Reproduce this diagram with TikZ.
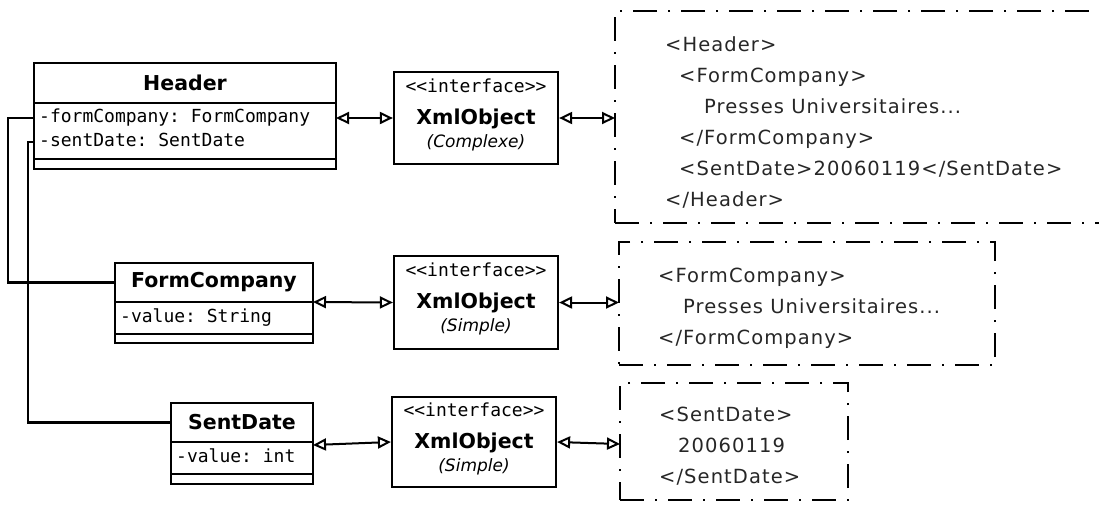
\documentclass[tikz,border=0pt]{standalone}
\usepackage{fontspec}
\setmainfont{DejaVu Sans}
\setmonofont{DejaVu Sans Mono}
\newfontfamily\xmlfont{DejaVu Sans}[LetterSpace=5.5]
\usetikzlibrary{arrows.meta,positioning}
\tikzset
{
  classbox/.style={draw,line width=2.2pt,fill=white,outer sep=0pt,inner sep=0pt},
  classname/.style={classbox,font=\bfseries\fontsize{20.5}{24}\selectfont},
  row/.style={anchor=west,inner xsep=5pt,inner ysep=0pt,text height=13pt,text depth=4pt,font=\ttfamily\fontsize{18}{20}\selectfont},
  xmlbox/.style={draw,line width=2.2pt,fill=white,minimum width=164pt,minimum height=92pt,align=center,font=\fontsize{18}{23}\selectfont},
  docbox/.style={draw,line width=2pt,dash pattern=on 24pt off 11pt on 2pt off 11pt,anchor=north west,outer sep=0pt},
  doctext/.style={align=left,inner sep=0pt,yshift=-5pt,font=\xmlfont\fontsize{19.5}{31}\selectfont,text=black!85},
  link/.style={line width=2.2pt},
  assoc/.style={line width=2pt,{Triangle[open,length=13pt,width=12pt,line width=2pt]}-{Triangle[open,length=13pt,width=12pt,line width=2pt]}}
}
\newcommand{\xmlobject}[1]{{\ttfamily<<interface>>}\\[9pt]{\bfseries\fontsize{20.5}{23}\selectfont XmlObject}\\{\itshape\fontsize{17}{23}\selectfont(#1)\rule[-10pt]{0pt}{10pt}}}

\begin{document}
\begin{tikzpicture}[x=1pt,y=-1pt]
  \useasboundingbox (0,0) rectangle (1099,504);
  \clip (0,0) rectangle (1099,504);
  % xml dokumenti
  \node[docbox,minimum width=515pt,minimum height=212pt] (doc1) at (615,11) {};
  \node[doctext,right=50pt of doc1.west] (doc1txt) {<Header>\\
    \hspace*{14pt}<FormCompany>\\
    \hspace*{39pt}Presses Universitaires...\\
    \hspace*{14pt}</FormCompany>\\
    \hspace*{14pt}<SentDate>20060119</SentDate>\\
    </Header>};
  \node[docbox,minimum width=376pt,minimum height=123pt] (doc2) at (619,242) {};
  \node[doctext,right=39pt of doc2.west] (doc2txt) {<FormCompany>\\
    \hspace*{25pt}Presses Universitaires...\\
    </FormCompany>};
  \node[docbox,minimum width=228pt,minimum height=117pt] (doc3) at (620,383) {};
  \node[doctext,right=39pt of doc3.west] (doc3txt) {<SentDate>\\
    \hspace*{19pt}20060119\\
    </SentDate>};
  % razred Header
  \node[classname,minimum width=302pt,minimum height=40pt] (header) at (185,83) {Header};
  \node[classbox,minimum width=302pt,minimum height=56pt,below=0pt of header] (hdrattr) {};
  \node[classbox,minimum width=302pt,minimum height=10pt,below=0pt of hdrattr] (hdrops) {};
  \node[row] (hdrfc) at (34,118) {-formCompany: FormCompany};
  \node[row] (hdrsd) at (34,142) {-sentDate: SentDate};
  % razred FormCompany
  \node[classname,minimum width=198pt,minimum height=39pt] (fc) at (214,282.5) {FormCompany};
  \node[classbox,minimum width=198pt,minimum height=32pt,below=0pt of fc] (fcattr) {};
  \node[classbox,minimum width=198pt,minimum height=9pt,below=0pt of fcattr] (fcops) {};
  \node[row] (fcval) at (115,318) {-value: String};
  % razred SentDate
  \node[classname,minimum width=142pt,minimum height=39pt] (sd) at (242,422.5) {SentDate};
  \node[classbox,minimum width=142pt,minimum height=32pt,below=0pt of sd] (sdattr) {};
  \node[classbox,minimum width=142pt,minimum height=10pt,below=0pt of sdattr] (sdops) {};
  \node[row] (sdval) at (171,458) {-value: int};
  % vmesniki
  \node[xmlbox] (xml1) at (476,118) {\xmlobject{Complexe}};
  \node[xmlbox,minimum height=93pt] (xml2) at (476,302.5) {\xmlobject{Simple}};
  \node[xmlbox,minimum height=90pt] (xml3) at (474,442) {\xmlobject{Simple}};
  % povezave
  \draw[link] (hdrfc.west) -- ++(-26,0) |- (fc.west);
  \draw[link] (hdrsd.west) -- ++(-6,0) |- (sd.west);
  \draw[assoc] (hdrattr.east |- xml1.west) -- (xml1.west);
  \draw[assoc] (xml1.east) -- (xml1.east -| doc1.west);
  \draw[assoc] (fcattr.north east) -- (xml2.west);
  \draw[assoc] (xml2.east) -- (xml2.east -| doc2.west);
  \draw[assoc] ([yshift=-3pt]sdattr.north east) -- (xml3.west);
  \draw[assoc] (xml3.east) -- ([yshift=-2pt]xml3.east -| doc3.west);
\end{tikzpicture}
\end{document}
